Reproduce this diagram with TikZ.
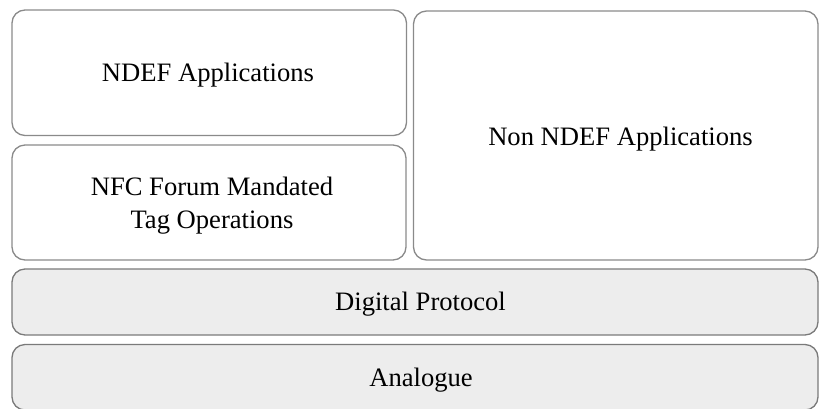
\documentclass[tikz,border=0pt]{standalone}
\usepackage{fontspec}
\setmainfont{Liberation Serif}
\definecolor{boxgray}{HTML}{8A8A8A}
\definecolor{layerline}{HTML}{7A7A7A}
\definecolor{layergray}{HTML}{EDEDED}
\begin{document}
\begin{tikzpicture}[x=0.5pt,y=-0.5pt,
  box/.style={draw=boxgray, line width=0.65pt, rounded corners=6.5pt},
  layer/.style={draw=layerline, line width=0.65pt, rounded corners=6.5pt, fill=layergray},
  lbl/.style={font=\fontsize{13.3}{16.6}\selectfont, align=center, inner sep=0pt, anchor=base}]
  \useasboundingbox (0,0) rectangle (819,408);
  \clip (0,0) rectangle (819,408);
  % boxes
  \draw[box] (12,10) rectangle (406.5,135.5);
  \draw[box] (12,145) rectangle (406,260);
  \draw[box] (413.5,11) rectangle (818,260);
  \draw[layer] (12,269) rectangle (818,335);
  \draw[layer] (12,344.5) rectangle (818,410);
  % labels
  \node[lbl] (ndef) at (208,81) {NDEF Applications};
  \node[lbl] (nfc) at (212,228.3) {NFC Forum Mandated\\Tag Operations};
  \node[lbl] (nonndef) at (620.5,145) {Non NDEF Applications};
  \node[lbl] (digital) at (420.5,310.7) {Digital Protocol};
  \node[lbl] (analogue) at (421,386) {Analogue};
\end{tikzpicture}
\end{document}
